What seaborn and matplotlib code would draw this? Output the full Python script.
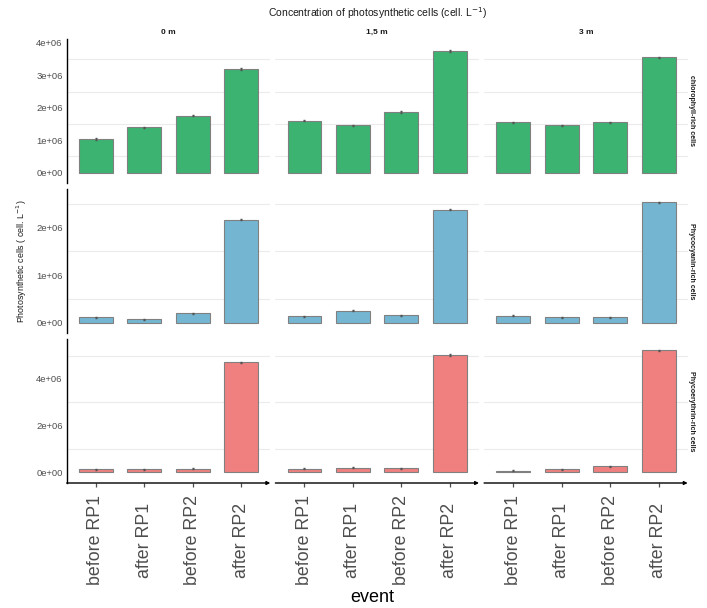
import numpy as np
import pandas as pd
import matplotlib
matplotlib.use("Agg")
import matplotlib.pyplot as plt
import seaborn as sns
from matplotlib.ticker import FuncFormatter

# ---- data ----
events = ["before RP1", "after RP1", "before RP2", "after RP2"]
depths = ["0 m", "1,5 m", "3 m"]
cell_types = ["chlorophyll-rich cells", "Phycocyanin-rich cells", "Phycoerythrin-rich cells"]

chl_0m = [1.04e6, 1.40e6, 1.76e6, 3.19e6]
chl_15m = [1.60e6, 1.46e6, 1.87e6, 3.75e6]
chl_3m = [1.55e6, 1.46e6, 1.55e6, 3.55e6]
pc_0m = [0.12e6, 0.077e6, 0.20e6, 2.17e6]
pc_15m = [0.14e6, 0.26e6, 0.16e6, 2.38e6]
pc_3m = [0.15e6, 0.12e6, 0.12e6, 2.53e6]
pe_0m = [0.12e6, 0.12e6, 0.16e6, 4.71e6]
pe_15m = [0.16e6, 0.20e6, 0.17e6, 5.03e6]
pe_3m = [0.07e6, 0.12e6, 0.25e6, 5.23e6]

chl_err = [0.02e6, 0.02e6, 0.02e6, 0.025e6]
pc_err = [0.012e6, 0.012e6, 0.012e6, 0.015e6]
pe_err = [0.025e6, 0.025e6, 0.025e6, 0.03e6]

values = {
    "chlorophyll-rich cells": [chl_0m, chl_15m, chl_3m],
    "Phycocyanin-rich cells": [pc_0m, pc_15m, pc_3m],
    "Phycoerythrin-rich cells": [pe_0m, pe_15m, pe_3m],
}
errors = {
    "chlorophyll-rich cells": chl_err,
    "Phycocyanin-rich cells": pc_err,
    "Phycoerythrin-rich cells": pe_err,
}

rows = []
for ct in cell_types:
    for d, vals in zip(depths, values[ct]):
        for ev, v, e in zip(events, vals, errors[ct]):
            rows.append(dict(cell=ct, depth=d, event=ev, value=v, err=e))
df = pd.DataFrame(rows)

colors = {"chlorophyll-rich cells": "#3CB371",
          "Phycocyanin-rich cells": "#74B6D2",
          "Phycoerythrin-rich cells": "#F08080"}
ylims = {"chlorophyll-rich cells": (-0.32e6, 4.12e6),
         "Phycocyanin-rich cells": (-0.21e6, 2.81e6),
         "Phycoerythrin-rich cells": (-0.46e6, 5.71e6)}
yticks = {"chlorophyll-rich cells": [0, 1e6, 2e6, 3e6, 4e6],
          "Phycocyanin-rich cells": [0, 1e6, 2e6],
          "Phycoerythrin-rich cells": [0, 2e6, 4e6]}
ygrid = {"chlorophyll-rich cells": [0.5e6, 1.5e6, 2.5e6, 3.5e6],
         "Phycocyanin-rich cells": [0.5e6, 1.5e6, 2.5e6],
         "Phycoerythrin-rich cells": [1e6, 3e6, 5e6]}

sns.set_theme(style="white")
plt.rcParams["font.family"] = ["Liberation Sans", "DejaVu Sans"]

W, H = 707, 608
fig, axes = plt.subplots(3, 3, figsize=(W / 100, H / 100), dpi=100, sharey="row")
fig.subplots_adjust(left=66.7 / W, right=687.7 / W, top=1 - 39 / H, bottom=1 - 483 / H,
                    wspace=0.025, hspace=0.042)

fmt = FuncFormatter(lambda v, p: "%.0e" % v)

for i, ct in enumerate(cell_types):
    for j, d in enumerate(depths):
        ax = axes[i, j]
        sub = df[(df.cell == ct) & (df.depth == d)]
        for g in ygrid[ct]:
            ax.axhline(g, color="#ebebeb", lw=0.8, zorder=0)
        sns.barplot(data=sub, x="event", y="value", order=events, color=colors[ct],
                    edgecolor="#808080", linewidth=0.8, errorbar=None, width=0.7,
                    saturation=1, ax=ax, zorder=2)
        ax.errorbar(x=np.arange(len(events)), y=sub["value"].values, yerr=sub["err"].values,
                    fmt="none", ecolor="#555555", elinewidth=0.9, capsize=0.8, zorder=3)
        ax.set_xlim(-0.6, 3.6)
        ax.set_ylim(*ylims[ct])
        ax.set_yticks(yticks[ct])
        ax.yaxis.set_major_formatter(fmt)
        ax.set_xlabel("")
        ax.set_ylabel("")
        for s in ax.spines.values():
            s.set_visible(False)
        ax.tick_params(axis="y", length=0, labelsize=6.8, labelcolor="#4d4d4d", pad=3)
        if j == 0:
            ax.spines["left"].set_visible(True)
            ax.spines["left"].set_color("black")
            ax.spines["left"].set_linewidth(1.0)
        if i == 2:
            ax.annotate("", xy=(1.0, 0), xytext=(0.0, 0), xycoords="axes fraction",
                        arrowprops=dict(arrowstyle="-|>", lw=1.0, color="black",
                                        mutation_scale=5, shrinkA=0, shrinkB=0))
            ax.set_xticks(range(len(events)))
            ax.set_xticklabels(events, rotation=90, va="center", ha="center",
                               fontsize=12.8, color="#4d4d4d")
            ax.tick_params(axis="x", length=3, width=0.9, color="#4d4d4d", pad=38,
                           bottom=True, direction="out")
        else:
            ax.tick_params(axis="x", length=0, labelbottom=False)

# strips
for j, d in enumerate(depths):
    pos = axes[0, j].get_position()
    fig.text((pos.x0 + pos.x1) / 2, 1 - 32 / H, d, ha="center", va="center",
             fontsize=6.0, fontweight="bold", color="#1a1a1a")
for i, ct in enumerate(cell_types):
    pos = axes[i, 2].get_position()
    fig.text(692 / W, (pos.y0 + pos.y1) / 2, ct, ha="center", va="center",
             rotation=270, fontsize=5.0, fontweight="bold", color="#1a1a1a")

fig.text(377 / W, 1 - 13 / H, "Concentration of photosynthetic cells (cell. L$^{-1}$)",
         ha="center", va="center", fontsize=7.5, color="#1a1a1a")
fig.text(22 / W, 1 - 261 / H, "Photosynthetic cells ( cell. L$^{-1}$)", rotation=90,
         ha="center", va="center", fontsize=6.4, color="#1a1a1a")
fig.text(372 / W, 1 - 598 / H, "event", ha="center", va="center", fontsize=13, color="black")

fig.savefig("out.png", dpi=100)
